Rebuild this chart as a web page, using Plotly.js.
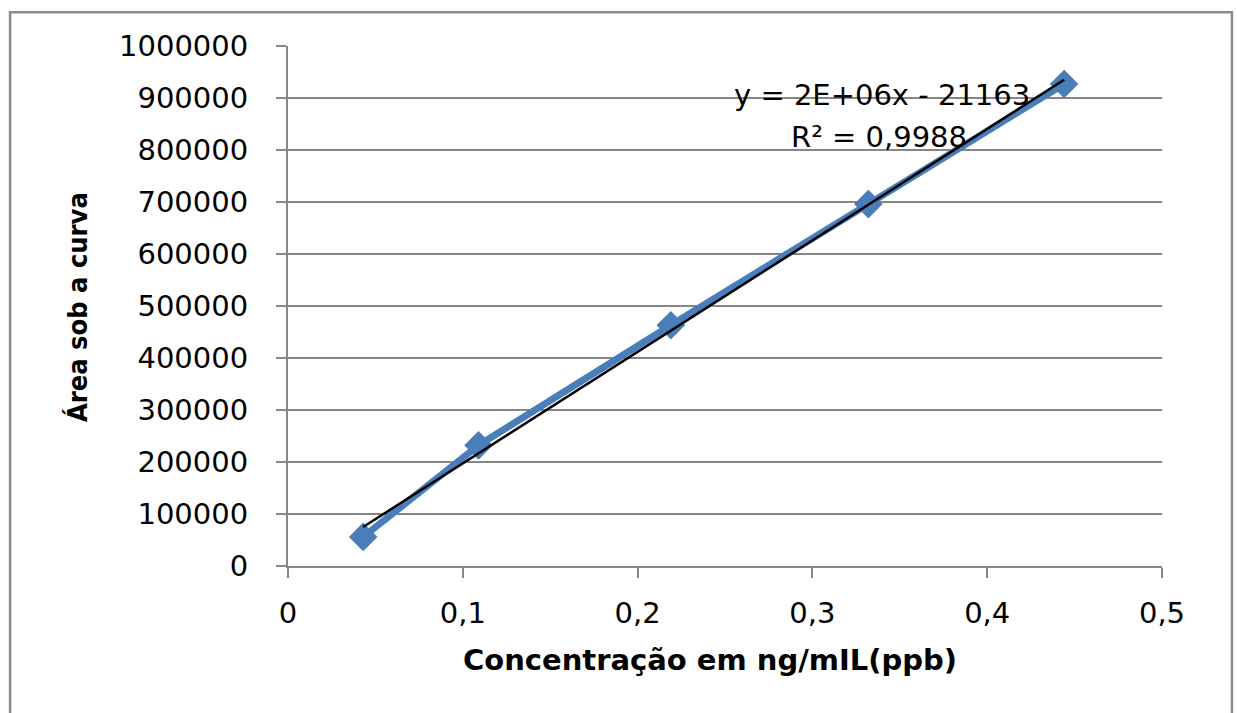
<!DOCTYPE html>
<html>
<head>
<meta charset="utf-8">
<script src="https://cdn.plot.ly/plotly-3.0.1.min.js"></script>
<style>html,body{margin:0;padding:0;background:#fff;}#chart{width:1237px;height:713px;}</style>
</head>
<body>
<div id="chart"></div>
<script>
// Data
const concentracao = [0.043, 0.109, 0.219, 0.332, 0.444];
const area = [56000, 232000, 463000, 696000, 927000];
const xTickVals = [0, 0.1, 0.2, 0.3, 0.4, 0.5];
const xTickText = ['0', '0,1', '0,2', '0,3', '0,4', '0,5'];
const yTickVals = [0, 100000, 200000, 300000, 400000, 500000, 600000, 700000, 800000, 900000, 1000000];
const yTickText = yTickVals.map(v => String(v));
const xTitle = 'Concentração em ng/mIL(ppb)';
const yTitle = 'Área sob a curva';
const equationText = 'y = 2E+06x - 21163';
const r2Text = 'R² = 0,9988';

// Least-squares linear trendline from the data
const n = concentracao.length;
const mx = concentracao.reduce((a, b) => a + b, 0) / n;
const my = area.reduce((a, b) => a + b, 0) / n;
let sxy = 0, sxx = 0;
for (let i = 0; i < n; i++) { sxy += (concentracao[i] - mx) * (area[i] - my); sxx += (concentracao[i] - mx) ** 2; }
const slope = sxy / sxx;
const intercept = my - slope * mx;
const trendX = [concentracao[0], concentracao[n - 1]];
const trendY = trendX.map(x => slope * x + intercept);

const tickFont = {family: 'DejaVu Sans, sans-serif', size: 29, color: '#000'};
const gridColor = '#868686';

const traces = [
  {
    x: concentracao, y: area, type: 'scatter', mode: 'lines+markers',
    line: {color: '#4A7EBB', width: 7},
    marker: {symbol: 'diamond', size: 22, color: '#4A7EBB'},
    showlegend: false, hoverinfo: 'x+y'
  },
  {
    x: trendX, y: trendY, type: 'scatter', mode: 'lines',
    line: {color: '#000000', width: 2.5},
    showlegend: false, hoverinfo: 'skip'
  }
];

const layout = {
  width: 1237, height: 713,
  margin: {l: 288, r: 75, t: 46, b: 147},
  paper_bgcolor: '#ffffff', plot_bgcolor: '#ffffff',
  xaxis: {
    range: [0, 0.5], tickvals: xTickVals, ticktext: xTickText,
    showgrid: false, zeroline: false,
    showline: true, linecolor: gridColor, linewidth: 2,
    ticks: 'outside', ticklen: 10, tickwidth: 2, tickcolor: gridColor,
    tickfont: tickFont, ticklabelstandoff: 10
  },
  yaxis: {
    range: [0, 1000000], tickvals: yTickVals, ticktext: yTickText,
    showgrid: true, gridcolor: gridColor, gridwidth: 2, zeroline: false,
    showline: true, linecolor: gridColor, linewidth: 2,
    ticks: 'outside', ticklen: 10, tickwidth: 2, tickcolor: gridColor,
    tickfont: tickFont, ticklabelstandoff: 22
  },
  annotations: [
    {xref: 'paper', yref: 'paper', x: 0.483, y: -0.181, text: '<b>' + xTitle + '</b>', showarrow: false,
     font: {family: 'DejaVu Sans, sans-serif', size: 29, color: '#000'}, xanchor: 'center', yanchor: 'middle'},
    {xref: 'paper', yref: 'paper', x: -0.2414, y: 0.498, text: '<b>' + yTitle + '</b>', showarrow: false, textangle: -90,
     font: {family: 'DejaVu Sans Condensed, sans-serif', size: 27, color: '#000'}, xanchor: 'center', yanchor: 'middle'},
    {xref: 'x', yref: 'y', x: 0.34, y: 905000, text: equationText, showarrow: false,
     font: {family: 'DejaVu Sans, sans-serif', size: 29, color: '#000'}, xanchor: 'center', yanchor: 'middle'},
    {xref: 'x', yref: 'y', x: 0.338, y: 825000, text: r2Text, showarrow: false,
     font: {family: 'DejaVu Sans, sans-serif', size: 29, color: '#000'}, xanchor: 'center', yanchor: 'middle'}
  ],
  shapes: [
    {type: 'rect', xref: 'paper', yref: 'paper', x0: -0.318, x1: 1.08, y0: -0.3, y1: 1.065,
     line: {color: '#8c8c8c', width: 2.5}, fillcolor: 'rgba(0,0,0,0)', layer: 'below'}
  ]
};

Plotly.newPlot('chart', traces, layout, {displayModeBar: false, staticPlot: true});
</script>
</body>
</html>
